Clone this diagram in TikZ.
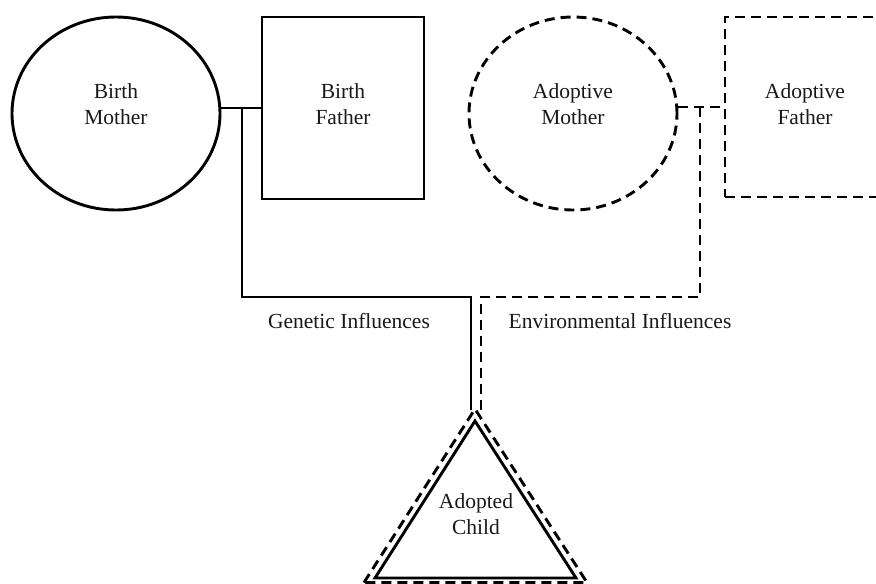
\documentclass[tikz,border=0pt]{standalone}
\usepackage{fontspec}
\setmainfont{Liberation Serif}
\usetikzlibrary{shapes.geometric,calc}
\begin{document}
\begin{tikzpicture}[x=1pt,y=-1pt,
  every node/.style={inner sep=0pt},
  solidln/.style={line width=2.9pt, line join=miter},
  dashln/.style={line width=2.9pt, dash pattern=on 10pt off 6pt},
  lbl/.style={font=\fontsize{21.5}{26}\selectfont, align=center, text=black!90},
  oval/.style={ellipse, draw, minimum width=208pt, minimum height=193pt},
  boxnode/.style={rectangle, draw}]
\useasboundingbox (0,0) rectangle (876,584);
\clip (0,0) rectangle (876,584);
\fill[white] (0,0) rectangle (876,584);
% parents
\node[oval, solidln] (bm) at (116,113.5) {};
\node[boxnode, solidln, minimum width=162pt, minimum height=182pt] (bf) at (343,108) {};
\node[oval, dashln] (am) at (573,113.5) {};
\node[boxnode, dashln, minimum width=160pt, minimum height=180pt] (af) at (805,107) {};
\node[lbl] (bmt) at (116,104) {Birth\\Mother};
\node[lbl] (bft) at (343,104) {Birth\\Father};
\node[lbl] (amt) at (573,104) {Adoptive\\Mother};
\node[lbl] (aft) at (805,104) {Adoptive\\Father};
% child
\coordinate (s1) at (375,578);
\coordinate (s2) at (475,421);
\coordinate (s3) at (576,578);
\coordinate (d1) at (364,582.5);
\coordinate (d2) at (475,409);
\coordinate (d3) at (587,582.5);
\draw[solidln] (s1) -- (s2) -- (s3) -- cycle;
\draw[dashln] (d1) -- (d2) -- (d3) -- cycle;
\node[lbl] (ch) at (476,514) {Adopted\\Child};
% genetic line
\coordinate (gj) at (242,108);
\coordinate (gk) at (471,297);
\coordinate (ga) at (471,410);
\draw[solidln] (bf.west -| bm.east) -- (bf.west);
\draw[solidln] (gj) |- (gk) -- (ga);
% environmental line
\coordinate (ej) at (700,107);
\coordinate (ek) at (481,297);
\coordinate (ea) at (481,410);
\draw[dashln] (af.west -| am.east) -- (af.west);
\draw[dashln] (ej) |- (ek) -- (ea);
% labels
\node[lbl, anchor=base] (gl) at (349,328) {Genetic Influences};
\node[lbl, anchor=base] (el) at (620,328) {Environmental Influences};
\end{tikzpicture}
\end{document}
